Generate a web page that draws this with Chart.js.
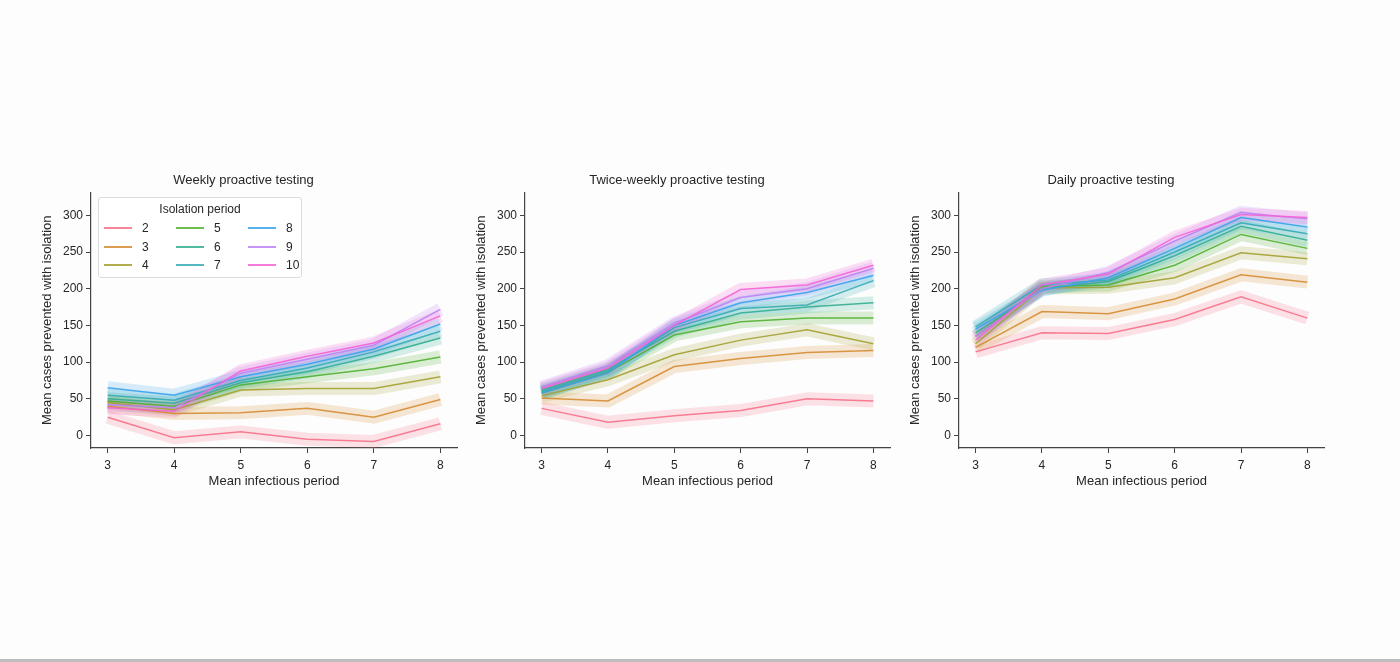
<!DOCTYPE html>
<html>
<head>
<meta charset="utf-8">
<script src="https://cdn.jsdelivr.net/npm/chart.js@4/dist/chart.umd.min.js"></script>
<style>
  body { margin: 0; background: #fdfdfd; width: 1400px; height: 662px; position: relative; overflow: hidden; font-family: "Liberation Sans", Arial, sans-serif; }
  .panel { position: absolute; top: 165px; width: 440px; height: 328px; }
  .bottomline { position: absolute; left: 0; top: 659px; width: 1400px; height: 3px; background: #bdbdbd; }
  #legend { position: absolute; left: 98px; top: 197px; width: 202px; height: 79px; border: 1px solid #dcdcdc; border-radius: 3px; background: rgba(255,255,255,0.85); color: #262626; font-size: 12px; }
  #legend .title { text-align: center; margin-top: 4px; height: 17px; }
  #legend .grid { display: grid; grid-template-columns: 72px 72px 58px; margin-left: 5px; grid-auto-flow: column; grid-template-rows: repeat(3, 18.5px); }
  #legend .item { display: flex; align-items: center; }
  #legend .sw { width: 28px; height: 1.6px; margin-right: 10px; opacity: 0.85; }
</style>
</head>
<body>
<div class="panel" style="left:30px"><canvas id="c1"></canvas></div>
<div class="panel" style="left:464px"><canvas id="c2"></canvas></div>
<div class="panel" style="left:898px"><canvas id="c3"></canvas></div>
<div id="legend"><div class="title">Isolation period</div><div class="grid"></div></div>
<div class="bottomline"></div>
<script>
const infectious = [3, 4, 5, 6, 7, 8];
const isolation = [2, 3, 4, 5, 6, 7, 8, 9, 10];
const colors = ['#f77189', '#d58c32', '#a4a031', '#50b131', '#34ae91', '#37abb5', '#3ba3ec', '#bb83f4', '#f564d4'];

// one row per isolation period, values at infectious period 3..8
const weekly = [
  [25, -3, 5, -5, -8, 16],
  [40, 30, 31, 37, 25, 49],
  [45, 35, 62, 64, 64, 80],
  [47, 40, 69, 80, 91, 107],
  [50, 44, 72, 87, 108, 133],
  [55, 48, 75, 92, 114, 142],
  [65, 55, 80, 97, 118, 152],
  [42, 38, 85, 104, 123, 172],
  [38, 33, 88, 108, 126, 163]
];
const twiceWeekly = [
  [37, 18, 27, 34, 50, 47],
  [51, 47, 94, 105, 113, 116],
  [54, 76, 110, 130, 144, 125],
  [58, 86, 137, 155, 160, 160],
  [62, 90, 142, 167, 175, 181],
  [60, 88, 147, 173, 178, 211],
  [58, 85, 150, 181, 195, 218],
  [66, 95, 153, 188, 200, 228],
  [64, 92, 150, 199, 205, 232]
];
const daily = [
  [114, 140, 139, 158, 189, 160],
  [120, 169, 166, 186, 219, 209],
  [125, 201, 202, 215, 249, 241],
  [135, 203, 205, 232, 274, 255],
  [140, 200, 210, 245, 285, 266],
  [148, 205, 212, 250, 290, 275],
  [145, 198, 215, 255, 297, 284],
  [135, 200, 222, 265, 304, 295],
  [130, 205, 220, 270, 301, 297]
];

const titles = ['Weekly proactive testing', 'Twice-weekly proactive testing', 'Daily proactive testing'];
const yTicks = [0, 50, 100, 150, 200, 250, 300];

function alpha(hex, a) {
  const n = parseInt(hex.slice(1), 16);
  return 'rgba(' + (n >> 16) + ',' + ((n >> 8) & 255) + ',' + (n & 255) + ',' + a + ')';
}

const font = "'Liberation Sans', Arial, sans-serif";
const ink = '#262626';

function makeChart(id, table, title, padRight) {
  const datasets = [];
  table.forEach((row, i) => {
    const pts = row.map((v, j) => ({ x: infectious[j], y: v }));
    // confidence band drawn as a wide translucent stroke
    datasets.push({
      label: 'band' + isolation[i], data: pts, borderColor: alpha(colors[i], 0.2),
      borderWidth: 13, pointRadius: 0, fill: false, tension: 0,
      borderJoinStyle: 'round', borderCapStyle: 'butt', order: 100 - i
    });
    datasets.push({
      label: String(isolation[i]), data: pts, borderColor: alpha(colors[i], 0.9),
      borderWidth: 1.5, pointRadius: 0, fill: false, tension: 0, order: 20 - i
    });
  });
  new Chart(document.getElementById(id), {
    type: 'line',
    data: { datasets },
    options: {
      responsive: true,
      maintainAspectRatio: false,
      animation: false,
      layout: { padding: { left: 0, right: padRight, top: 0, bottom: 0 } },
      plugins: {
        legend: { display: false },
        tooltip: { enabled: false },
        title: {
          display: true, text: title, color: ink,
          font: { family: font, size: 13, weight: 'normal' },
          padding: { top: 8, bottom: 4 }
        }
      },
      scales: {
        x: {
          type: 'linear', min: 2.75, max: 8.25,
          afterBuildTicks: s => { s.ticks = infectious.map(v => ({ value: v })); },
          afterFit: s => { s.height = 45; },
          grid: { drawOnChartArea: false, drawTicks: true, tickLength: 5, color: '#444', lineWidth: 1 },
          border: { display: true, color: '#444', width: 1.2 },
          ticks: { color: ink, font: { family: font, size: 12 }, padding: 5, maxRotation: 0 },
          title: { display: true, text: 'Mean infectious period', color: ink, font: { family: font, size: 13 }, padding: { top: 0, bottom: 4 } }
        },
        y: {
          min: -17, max: 331,
          afterBuildTicks: s => { s.ticks = yTicks.map(v => ({ value: v })); },
          afterFit: s => { s.width = 61; },
          grid: { drawOnChartArea: false, drawTicks: true, tickLength: 5, color: '#444', lineWidth: 1 },
          border: { display: true, color: '#444', width: 1.2 },
          ticks: { color: ink, font: { family: font, size: 12 }, padding: 3 },
          title: { display: true, text: 'Mean cases prevented with isolation', color: ink, font: { family: font, size: 13 }, padding: { top: 10, bottom: 0 } }
        }
      }
    }
  });
}

makeChart('c1', weekly, titles[0], 13);
makeChart('c2', twiceWeekly, titles[1], 14);
makeChart('c3', daily, titles[2], 14);

// legend for the first panel
const grid = document.querySelector('#legend .grid');
isolation.forEach((p, i) => {
  const item = document.createElement('div');
  item.className = 'item';
  item.innerHTML = '<span class="sw" style="background:' + colors[i] + '"></span><span>' + p + '</span>';
  grid.appendChild(item);
});
</script>
</body>
</html>
